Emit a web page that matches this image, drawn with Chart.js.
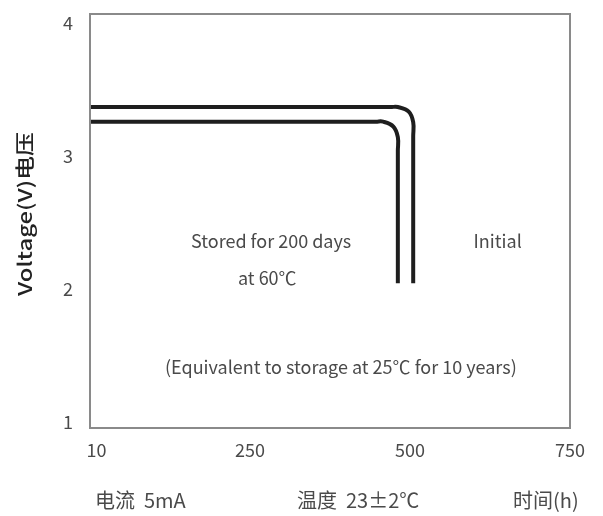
<!DOCTYPE html>
<html>
<head>
<meta charset="utf-8">
<script src="https://cdn.jsdelivr.net/npm/chart.js@4.4.0/dist/chart.umd.min.js"></script>
<style>
  html, body { margin: 0; padding: 0; background: #fff; }
  #wrap { width: 603px; height: 516px; }
</style>
</head>
<body>
<div id="wrap"><canvas id="myChart"></canvas></div>
<script>
// time (h) and voltage (V)
var initialTime = [0, 470, 481, 498, 505, 505, 505];
var initialVolt = [3.37, 3.37, 3.37, 3.335, 3.256, 3.15, 2.045];
var storedTime = [0, 447, 458, 474, 481, 481, 481];
var storedVolt = [3.26, 3.26, 3.26, 3.223, 3.143, 3.04, 2.045];

var xTicks = [10, 250, 500, 750];
var yTicks = [1, 2, 3, 4];

var notes = [
  { text: 'Stored for 200 days', x: 283, y: 2.36 },
  { text: 'at 60\u2103', x: 277, y: 2.08 },
  { text: 'Initial', x: 637, y: 2.36 },
  { text: '(Equivalent to storage at 25\u2103 for 10 years)', x: 392, y: 1.41 }
];
var footer = ['\u7535\u6d41  5mA', '\u6e29\u5ea6  23\u00b12\u2103', '\u65f6\u95f4(h)'];
var yTitle = 'Voltage(V)\u7535\u538b';

var textFont = '"Noto Sans CJK SC", "Noto Sans", sans-serif';

function toPoints(xs, ys) {
  return xs.map(function(x, i) { return { x: x, y: ys[i] }; });
}

var framePlugin = {
  id: 'frame',
  afterDraw: function(chart) {
    var c = chart.ctx, a = chart.chartArea;
    var xs = chart.scales.x, ys = chart.scales.y;
    c.save();
    c.strokeStyle = '#8a8a8a';
    c.lineWidth = 2;
    c.strokeRect(a.left, a.top, a.right - a.left, a.bottom - a.top);

    c.fillStyle = '#4a4a4a';
    c.font = '18px ' + textFont;
    c.textAlign = 'center';
    c.textBaseline = 'middle';
    notes.forEach(function(n) {
      c.fillText(n.text, xs.getPixelForValue(n.x), ys.getPixelForValue(n.y));
    });

    // test conditions under the axis
    c.textAlign = 'left';
    c.font = '20px ' + textFont;
    c.fillText(footer[0], 95, 500);
    c.fillText(footer[1], 297, 500);
    c.fillText(footer[2], 513, 500);

    // y axis title, stretched along its length like the original
    c.translate(25, 214);
    c.rotate(-Math.PI / 2);
    c.font = '500 19px ' + textFont;
    var w = c.measureText(yTitle).width;
    c.scale(164 / w, 1);
    c.textAlign = 'center';
    c.fillStyle = '#222';
    c.fillText(yTitle, 0, 0);
    c.restore();
  }
};

var ctx = document.getElementById('myChart').getContext('2d');
var myChart = new Chart(ctx, {
  type: 'line',
  data: {
    datasets: [
      {
        label: 'Initial',
        data: toPoints(initialTime, initialVolt),
        borderColor: '#1e1e1e',
        borderWidth: 4,
        pointRadius: 0,
        tension: 0.4,
        fill: false
      },
      {
        label: 'Stored for 200 days at 60\u2103',
        data: toPoints(storedTime, storedVolt),
        borderColor: '#1e1e1e',
        borderWidth: 4,
        pointRadius: 0,
        tension: 0.4,
        fill: false
      }
    ]
  },
  options: {
    responsive: true,
    maintainAspectRatio: false,
    animation: false,
    layout: { padding: { top: 14, right: 33, bottom: 0, left: 0 } },
    plugins: {
      legend: { display: false },
      tooltip: { enabled: false }
    },
    scales: {
      x: {
        type: 'linear',
        min: 0,
        max: 750,
        grid: { display: false, drawTicks: false },
        border: { display: false },
        afterBuildTicks: function(scale) {
          scale.ticks = xTicks.map(function(v) { return { value: v }; });
        },
        afterFit: function(scale) {
          scale.height = 88;
          scale.paddingLeft = 0;
          scale.paddingRight = 0;
        },
        ticks: {
          padding: 11,
          color: '#4a4a4a',
          font: { size: 18, family: textFont }
        }
      },
      y: {
        min: 0.955,
        max: 4.07,
        grid: { display: false, drawTicks: false },
        border: { display: false },
        afterBuildTicks: function(scale) {
          scale.ticks = yTicks.map(function(v) { return { value: v }; });
        },
        afterFit: function(scale) {
          scale.width = 90;
          scale.paddingTop = 0;
          scale.paddingBottom = 0;
        },
        ticks: {
          padding: 17,
          color: '#4a4a4a',
          font: { size: 18, family: textFont }
        }
      }
    }
  },
  plugins: [framePlugin]
});
</script>
</body>
</html>
